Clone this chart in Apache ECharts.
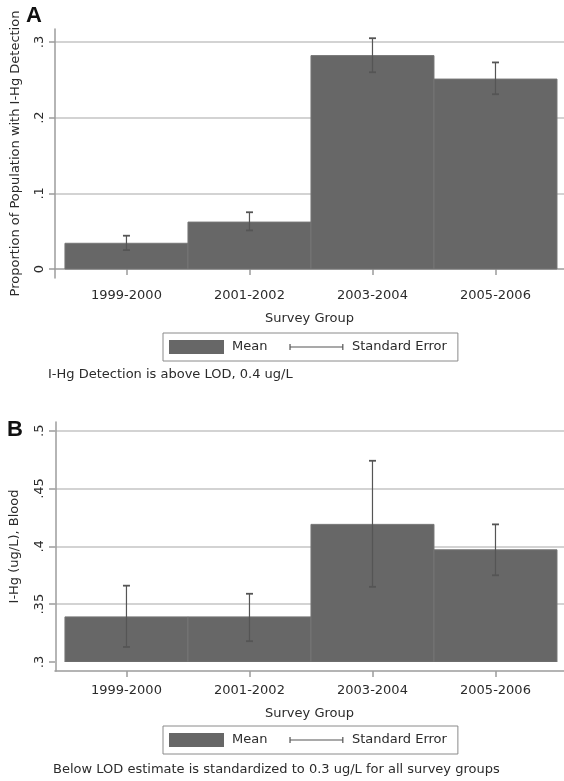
<!DOCTYPE html>
<html>
<head>
<meta charset="utf-8">
<script src="https://cdn.jsdelivr.net/npm/echarts@6/dist/echarts.min.js"></script>
<style>html,body{margin:0;padding:0;background:#fff}#c{width:564px;height:781px}</style>
</head>
<body>
<div id="c"></div>
<script>
// ---- data ----
var categories = ['1999-2000', '2001-2002', '2003-2004', '2005-2006'];
var meanA = [0.034, 0.062, 0.282, 0.251];
var lowA  = [0.025, 0.051, 0.260, 0.231];
var highA = [0.044, 0.075, 0.305, 0.273];
var meanB = [0.339, 0.339, 0.419, 0.397];
var lowB  = [0.313, 0.318, 0.365, 0.375];
var highB = [0.366, 0.359, 0.474, 0.419];
var ticksA = [0, 0.1, 0.2, 0.3];
var ticksB = [0.3, 0.35, 0.4, 0.45, 0.5];
var titleA = 'Proportion of Population with I-Hg Detection';
var titleB = 'I-Hg (ug/L), Blood';
var xTitle = 'Survey Group';
var noteA = 'I-Hg Detection is above LOD, 0.4 ug/L';
var noteB = 'Below LOD estimate is standardized to 0.3 ug/L for all survey groups';

// ---- styling ----
var FONT = 'DejaVu Sans';
var TXT = '#2b2b2b';
var AXIS = '#9c9c9c';
var GRIDC = '#c4c4c4';
var BAR = '#676767';
var ERR = '#555555';
var pos = categories.map(function (c, i) { return i + 1; });
var xMin = 0.419, xMax = 4.557;

function fmt(v) {
  var s = String(+(+v).toFixed(3));
  return s.replace(/^0\./, '.');
}

function barRender(base) {
  return function (params, api) {
    var x = api.value(0), v = api.value(1);
    var p1 = api.coord([x - 0.5, v]);
    var p0 = api.coord([x + 0.5, base]);
    return {
      type: 'rect',
      shape: { x: p1[0], y: p1[1], width: p0[0] - p1[0], height: p0[1] - p1[1] },
      style: { fill: BAR, stroke: '#757575', lineWidth: 1 }
    };
  };
}
function errRender(params, api) {
  var x = api.value(0);
  var lo = api.coord([x, api.value(1)]);
  var hi = api.coord([x, api.value(2)]);
  var h = 3.5;
  var st = { stroke: ERR, lineWidth: 1.2 };
  return {
    type: 'group',
    children: [
      { type: 'line', shape: { x1: hi[0], y1: hi[1], x2: lo[0], y2: lo[1] }, style: st },
      { type: 'line', shape: { x1: hi[0] - h, y1: hi[1], x2: hi[0] + h, y2: hi[1] }, style: { stroke: ERR, lineWidth: 1.8 } },
      { type: 'line', shape: { x1: lo[0] - h, y1: lo[1], x2: lo[0] + h, y2: lo[1] }, style: { stroke: ERR, lineWidth: 1.8 } }
    ]
  };
}

function mainX(gridIndex, labelMargin) {
  return {
    type: 'value', gridIndex: gridIndex, min: xMin, max: xMax, offset: 9,
    axisLine: { show: true, lineStyle: { color: AXIS, width: 1.5 } },
    axisTick: { show: true, length: 6, customValues: pos, lineStyle: { color: AXIS, width: 1.5 } },
    axisLabel: {
      customValues: pos, margin: labelMargin, color: TXT, fontFamily: FONT, fontSize: 13,
      formatter: function (v) { return categories[Math.round(v) - 1]; }
    },
    splitLine: { show: false },
    name: xTitle, nameLocation: 'middle', nameGap: labelMargin + 23,
    nameTextStyle: { color: TXT, fontFamily: FONT, fontSize: 13 }
  };
}
function mainY(gridIndex, ticks, interval) {
  return {
    type: 'value', gridIndex: gridIndex, min: ticks[0], max: ticks[ticks.length - 1], interval: interval,
    axisLine: { show: false },
    axisTick: { show: true, length: 6, lineStyle: { color: AXIS, width: 1.5 } },
    axisLabel: { rotate: 90, margin: 9, color: TXT, fontFamily: FONT, fontSize: 13, formatter: fmt },
    splitLine: { show: true, showMinLine: false, lineStyle: { color: GRIDC, width: 1.5 } }
  };
}
function frameX(gridIndex) {
  return { type: 'value', gridIndex: gridIndex, show: false, min: 0, max: 1 };
}
function frameY(gridIndex, name, gap) {
  return {
    type: 'value', gridIndex: gridIndex, min: 0, max: 1,
    axisLine: { show: true, lineStyle: { color: AXIS, width: 1.5 } },
    axisTick: { show: false }, axisLabel: { show: false }, splitLine: { show: false },
    name: name, nameLocation: 'middle', nameGap: gap,
    nameTextStyle: { color: TXT, fontFamily: FONT, fontSize: 13 }
  };
}

var errIcon = 'path://M0,0h0.01v0.01h-0.01z M54,14h0.01v-0.01h-0.01z M0,4h1.2v6h-1.2z M0,6.5h54v1h-54z M52.8,4h1.2v6h-1.2z';
function legendAt(top) {
  return {
    left: 163, top: top, orient: 'horizontal',
    padding: [7, 11, 7, 6], itemGap: 22,
    itemWidth: 55, itemHeight: 14,
    borderColor: '#8a8a8a', borderWidth: 1, backgroundColor: '#fff',
    selectedMode: false,
    textStyle: { color: TXT, fontFamily: FONT, fontSize: 13, padding: [0, 0, 0, 3] },
    data: [
      { name: 'Mean', icon: 'rect', itemStyle: { color: BAR, borderWidth: 0 } },
      { name: 'Standard Error', icon: errIcon, itemStyle: { color: ERR, borderWidth: 0 } }
    ]
  };
}

var chart = echarts.init(document.getElementById('c'), null, { renderer: 'canvas' });
chart.setOption({
  animation: false,
  backgroundColor: '#fff',
  title: [
    { text: 'A', left: 26, top: 5, padding: 0, textStyle: { fontFamily: 'Liberation Sans', fontWeight: 'bold', fontSize: 22, color: '#111' } },
    { text: 'B', left: 7, top: 419, padding: 0, textStyle: { fontFamily: 'Liberation Sans', fontWeight: 'bold', fontSize: 22, color: '#111' } },
    { text: noteA, left: 48, top: 368, padding: 0, textStyle: { fontFamily: FONT, fontWeight: 'normal', fontSize: 13, color: TXT } },
    { text: noteB, left: 53, top: 763, padding: 0, textStyle: { fontFamily: FONT, fontWeight: 'normal', fontSize: 13, color: TXT } }
  ],
  legend: [legendAt(333), legendAt(726)],
  grid: [
    { left: 55, right: 0, top: 42, bottom: 512 },
    { left: 55, right: 0, top: 29, bottom: 503 },
    { left: 55, right: 0, top: 430.7, bottom: 119 },
    { left: 55, right: 0, top: 422, bottom: 110 }
  ],
  xAxis: [mainX(0, 11), frameX(1), mainX(2, 13), frameX(3)],
  yAxis: [mainY(0, ticksA, 0.1), frameY(1, titleA, 33), mainY(2, ticksB, 0.05), frameY(3, titleB, 35)],
  series: [
    { name: 'Mean', type: 'custom', xAxisIndex: 0, yAxisIndex: 0, renderItem: barRender(ticksA[0]),
      encode: { x: 0, y: 1 }, data: pos.map(function (p, i) { return [p, meanA[i]]; }) },
    { name: 'Standard Error', type: 'custom', xAxisIndex: 0, yAxisIndex: 0, renderItem: errRender, z: 3,
      encode: { x: 0, y: [1, 2] }, data: pos.map(function (p, i) { return [p, lowA[i], highA[i]]; }) },
    { name: 'Mean', type: 'custom', xAxisIndex: 2, yAxisIndex: 2, renderItem: barRender(ticksB[0]), clip: true,
      encode: { x: 0, y: 1 }, data: pos.map(function (p, i) { return [p, meanB[i]]; }) },
    { name: 'Standard Error', type: 'custom', xAxisIndex: 2, yAxisIndex: 2, renderItem: errRender, z: 3,
      encode: { x: 0, y: [1, 2] }, data: pos.map(function (p, i) { return [p, lowB[i], highB[i]]; }) }
  ]
});
</script>
</body>
</html>
